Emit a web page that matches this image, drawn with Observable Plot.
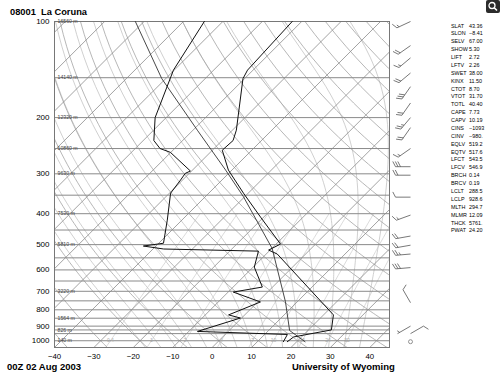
<!DOCTYPE html>
<html><head><meta charset="utf-8">
<script src="https://cdn.jsdelivr.net/npm/d3@7"></script>
<script src="https://cdn.jsdelivr.net/npm/@observablehq/plot@0.6"></script>
<style>
body{margin:0;background:#fff;}
#wrap{position:relative;width:500px;height:375px;font-family:"Liberation Sans",Arial,sans-serif;overflow:hidden}
#wrap svg{position:absolute;left:0;top:0}
.t{position:absolute;white-space:nowrap;color:#000;line-height:1}
</style></head><body><div id="wrap"></div>
<script>
// ---------- data ----------
const stationTitle = "08001  La Coruna";
const timeLabel = "00Z 02 Aug 2003";
const creditLabel = "University of Wyoming";
const pressureTicks = [100, 200, 300, 400, 500, 600, 700, 800, 900, 1000];
const tempTicks = [-40, -30, -20, -10, 0, 10, 20, 30, 40];
const isobarLevels = [150, 200, 250, 300, 350, 400, 450, 500, 550, 600, 650, 700, 750, 800, 850, 900, 925, 950, 1000];
const heightP = [100, 150, 200, 250, 300, 400, 500, 700, 850, 925, 1000];
const heightLabels = ["16560 m", "14140 m", "12320 m", "10860 m", "9630 m", "7530 m", "5810 m", "3220 m", "1564 m", "826 m", "140 m"];
// temperature sounding (hPa, °C)
const tempP = [100, 142, 151, 219, 236, 253, 292, 345, 410, 498, 520, 535, 830, 925, 973, 1007];
const tempT = [-62.4, -61.4, -60.4, -49.0, -47.2, -47.5, -40.9, -31.2, -20.8, -8.9, -10.4, -7.2, 22.5, 25.8, 18.0, 17.6];
// dewpoint sounding
const dewP = [100, 142, 200, 236, 250, 257, 294, 299, 314, 345, 419, 495, 505, 516, 524, 588, 679, 704, 756, 830, 849, 935, 956, 1007];
const dewT = [-84.7, -80.2, -72.8, -67.3, -63.7, -60.1, -50.3, -51.0, -50.5, -49.7, -43.7, -38.8, -43.2, -37.3, -12.7, -9.7, -2.6, -8.7, 0.7, -4.1, -0.3, -7.8, 15.8, 16.6];
// lifted parcel path
const parcelP = [100, 151, 219, 292, 354, 514, 755, 929, 1007];
const parcelT = [-102.2, -81.0, -58.9, -41.6, -30.3, -9.9, 7.0, 15.35, 22.1];
// winds (hPa, direction deg, speed kt)
const windP = [100, 119, 130, 145, 160, 180, 200, 215, 250, 285, 303, 355, 404, 470, 502, 535, 590, 760, 900, 950, 1007];
const windDir = [245, 235, 230, 230, 215, 215, 220, 215, 235, 270, 270, 270, 250, 260, 260, 265, 265, 330, 240, 60, 0];
const windSpd = [15, 20, 15, 20, 30, 20, 25, 20, 15, 30, 20, 10, 15, 20, 20, 25, 30, 10, 5, 10, 0];
// station indices
const indexNames = ["SLAT","SLON","SELV","SHOW","LIFT","LFTV","SWET","KINX","CTOT","VTOT","TOTL","CAPE","CAPV","CINS","CINV","EQLV","EQTV","LFCT","LFCV","BRCH","BRCV","LCLT","LCLP","MLTH","MLMR","THCK","PWAT"];
const indexValues = ["43.36","\u22128.41","67.00","5.30","2.72","2.26","38.00","11.50","8.70","31.70","40.40","7.73","10.19","\u22121093","\u2212980.","519.2","517.6","543.5","546.9","0.14","0.19","288.5","928.6","294.7","12.09","5761.","24.20"];
// background diagram families
const isothermValues = d3.range(-130, 50, 10);
const dryAdiabatValues = d3.range(-40, 210, 10);
const moistAdiabatValues = [-20, -16, -12, -8, -4, 0, 4, 8, 12, 16, 20, 24, 28, 32, 36];
const mixRatios = [0.4, 1, 2, 4, 7, 10, 16, 24, 32];

// ---------- geometry ----------
const W = 500, H = 375, ML = 54, MR = 111, MT = 21, MB = 28;
const X0 = -40, X1 = 45, P0 = 100, P1 = 1050;
const pxPerDeg = (W - ML - MR) / (X1 - X0);
const pxPerLn = (H - MT - MB) / Math.log(P1 / P0);
const K = pxPerLn / pxPerDeg;               // 45° skew
const sx = (T, p) => T + K * Math.log(P1 / p);
const pxToX = px => X0 + (px - ML) / pxPerDeg;
const pyToP = py => P0 * Math.exp((py - MT) / pxPerLn);
const pToPy = p => MT + pxPerLn * Math.log(p / P0);

// ---------- thermodynamics for background lines ----------
const es = Tc => 6.112 * Math.exp(17.67 * Tc / (Tc + 243.5));
function dTdp(Tk, p) {
  const Rd = 287.04, Cp = 1005.7, Lv = 2.501e6, eps = 0.622;
  const e = es(Tk - 273.15);
  const rs = eps * e / (p - e);
  return ((Rd * Tk + Lv * rs) / p) / (Cp + Lv * Lv * rs * eps / (Rd * Tk * Tk));
}
function moistPath(tw) {
  const pts = [];
  let T = tw + 273.15, p = 1000;
  let Td = T;
  for (let q = 1000; q < 1050; q += 1) { Td += dTdp(Td, q + 0.5) * 1; }
  pts.push({p: 1050, T: Td - 273.15});
  for (p = 1000; p >= 100; p -= 1) {
    if (p % 10 === 0) pts.push({p, T: T - 273.15});
    const k1 = dTdp(T, p);
    const k2 = dTdp(T - 0.5 * k1, p - 0.5);
    T -= k2;
  }
  return pts;
}
const pSamples = d3.range(1050, 99, -10);

const isoLines = isothermValues.flatMap(t => [{id: t, x: sx(t, P1), p: P1}, {id: t, x: sx(t, P0), p: P0}]);
const dryLines = dryAdiabatValues.flatMap(th => pSamples.map(p => ({id: th, p, x: sx((th + 273.15) * Math.pow(p / 1000, 0.2857) - 273.15, p)})));
const moistLines = moistAdiabatValues.flatMap(tw => moistPath(tw).map(d => ({id: tw, p: d.p, x: sx(d.T, d.p)})));
function tdFromW(w, p) { const e = w * p / (622 + w); const l = Math.log(e / 6.112); return 243.5 * l / (17.67 - l); }
const mixLines = mixRatios.flatMap(w => d3.range(1050, 399, -25).map(p => ({id: w, p, x: sx(tdFromW(w, p), p)})));
const mixLabels = mixRatios.map(w => ({w, p: 1000, x: sx(tdFromW(w, 1000), 1000)}));

const toXY = (P, T) => P.map((p, i) => ({p, x: sx(T[i], p)}));
const tempLine = toXY(tempP, tempT);
const dewLine = toXY(dewP, dewT);
const parcelLine = toXY(parcelP, parcelT);

// wind barbs
const barbSegs = [], calm = [];
const BX = 410, L = 15;
windP.forEach((p, i) => {
  const by = pToPy(p), spd = windSpd[i];
  if (spd < 2.5) { calm.push({p, x: pxToX(BX)}); return; }
  const a = windDir[i] * Math.PI / 180;
  const ux = Math.sin(a), uy = -Math.cos(a);
  const px = -uy, py = ux;
  const seg = (x1, y1, x2, y2) => barbSegs.push({x1: pxToX(x1), y1: pyToP(y1), x2: pxToX(x2), y2: pyToP(y2)});
  const tx = BX + L * ux, ty = by + L * uy;
  seg(BX, by, tx, ty);
  let s = Math.round(spd / 5) * 5, pos = 0;
  const fx = 0.87 * px + 0.45 * ux, fy = 0.87 * py + 0.45 * uy;
  while (s >= 10) { const rx = tx - pos * ux, ry = ty - pos * uy; seg(rx, ry, rx + 6 * fx, ry + 6 * fy); pos += 2.5; s -= 10; }
  if (s >= 5) { if (pos === 0) pos = 2.5; const rx = tx - pos * ux, ry = ty - pos * uy; seg(rx, ry, rx + 3 * fx, ry + 3 * fy); }
});

const minus = d => d < 0 ? "\u2212" + Math.abs(d) : String(d);

const chart = Plot.plot({
  width: W, height: H, marginLeft: ML, marginRight: MR, marginTop: MT, marginBottom: MB,
  style: {background: "transparent", fontFamily: "Liberation Sans, Arial, sans-serif", overflow: "visible"},
  x: {domain: [X0, X1], axis: null},
  y: {type: "log", domain: [P0, P1], reverse: true, axis: null},
  marks: [
    Plot.line(mixLines, {x: "x", y: "p", z: "id", stroke: "#d2d2d2", strokeWidth: 0.8, clip: true}),
    Plot.line(moistLines, {x: "x", y: "p", z: "id", stroke: "#c4c4c4", strokeWidth: 0.8, clip: true}),
    Plot.line(dryLines, {x: "x", y: "p", z: "id", stroke: "#a4a4a4", strokeWidth: 0.8, clip: true}),
    Plot.line(isoLines, {x: "x", y: "p", z: "id", stroke: "#8c8c8c", strokeWidth: 0.8, clip: true}),
    Plot.ruleY(isobarLevels, {y: d => d, x1: X0, x2: X1, stroke: "#8a8a8a", strokeWidth: 1}),
    Plot.frame({stroke: "#777"}),
    Plot.text(mixLabels, {x: "x", y: "p", text: d => String(d.w), fontSize: 5, fill: "#aaa"}),
    Plot.text(heightP, {x: X0, y: d => d, text: (d, i) => heightLabels[i], dx: 3, textAnchor: "start", fontSize: 5.2, fill: "#444"}),
    Plot.line(parcelLine, {x: "x", y: "p", stroke: "#333", strokeWidth: 0.9}),
    Plot.line(dewLine, {x: "x", y: "p", stroke: "#111", strokeWidth: 1}),
    Plot.line(tempLine, {x: "x", y: "p", stroke: "#111", strokeWidth: 1}),
    Plot.link(barbSegs, {x1: "x1", y1: "y1", x2: "x2", y2: "y2", stroke: "#555", strokeWidth: 0.8}),
    Plot.dot(calm, {x: "x", y: "p", r: 2, stroke: "#777", strokeWidth: 0.8}),
    Plot.text(pressureTicks, {x: X0, y: d => d, text: d => String(d), textAnchor: "end", dx: -5, fontSize: 8, fill: "#000"}),
    Plot.text(tempTicks, {x: d => d, y: P1, text: minus, dy: 8.5, fontSize: 7.8, fill: "#000"})
  ]
});
const wrap = document.getElementById("wrap");
wrap.appendChild(chart);

function addText(txt, left, top, size, bold, extra) {
  const d = document.createElement("div");
  d.className = "t";
  d.textContent = txt;
  d.style.left = left + "px"; d.style.top = top + "px";
  d.style.fontSize = size + "px";
  if (bold) d.style.fontWeight = "bold";
  if (extra) Object.assign(d.style, extra);
  wrap.appendChild(d);
}
addText(stationTitle, 10, 8, 9.3, true, {whiteSpace: "pre"});
addText(timeLabel, 7, 361.5, 9.5, true);
addText(creditLabel, 292, 362, 9.5, true);
indexNames.forEach((n, i) => {
  addText(n, 451, 23.5 + i * 7.88, 5.4, false);
  addText(indexValues[i], 469, 23.5 + i * 7.88, 5.4, false);
});
// magnifier button
const mag = document.createElement("div");
mag.style.cssText = "position:absolute;left:486px;top:0px;width:14px;height:13px;background:#2b2b2b;border-radius:2px";
mag.innerHTML = '<svg width="14" height="13" style="position:absolute;left:0;top:0"><circle cx="6" cy="5.5" r="3" fill="none" stroke="#fff" stroke-width="1.3"/><line x1="8.2" y1="7.7" x2="11" y2="10.5" stroke="#fff" stroke-width="1.6"/></svg>';
wrap.appendChild(mag);
</script></body></html>
